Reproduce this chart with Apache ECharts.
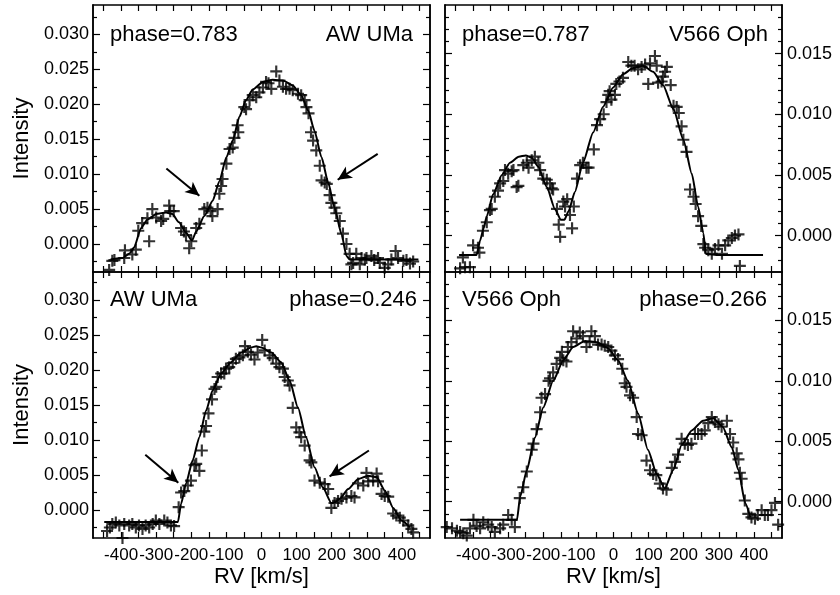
<!DOCTYPE html>
<html><head><meta charset="utf-8">
<script src="https://cdn.jsdelivr.net/npm/echarts@6/dist/echarts.min.js"></script>
<style>html,body{margin:0;padding:0;background:#fff}#c{width:840px;height:595px}</style>
</head><body><div id="c"></div>
<script>
// ---------- tick values ----------
const xTicks = [-450,-400,-350,-300,-250,-200,-150,-100,-50,0,50,100,150,200,250,300,350,400,450];
const xLabels = [-400,-300,-200,-100,0,100,200,300,400];
const awYLabels = [0,0.005,0.010,0.015,0.020,0.025,0.030];
const awYMinor = [-0.0025,0.0025,0.0075,0.0125,0.0175,0.0225,0.0275,0.0325];
const v566YLabels = [0,0.005,0.010,0.015];
const v566YMinor = [-0.002,-0.001,0.001,0.002,0.003,0.004,0.006,0.007,0.008,0.009,0.011,0.012,0.013,0.014,0.016,0.017,0.018];

// ---------- panel labels ----------
const panelNames = ['AW UMa','V566 Oph','AW UMa','V566 Oph'];
const panelPhases = ['phase=0.783','phase=0.787','phase=0.246','phase=0.266'];

// ---------- AW UMa, phase 0.783 ----------
const awObs783 = [[-434,-0.0037],[-425,-0.0024],[-419,-0.0023],[-391,-0.0020],[-389,-0.0009],[-368,-0.0015],[-358,-0.0008],[-351,0.0019],[-340,0.0030],[-320,0.0004],[-325,0.0037],[-311,0.0050],[-300,0.0038],[-286,0.0033],[-280,0.0036],[-263,0.0055],[-260,0.0047],[-250,0.0047],[-229,0.0023],[-221,0.0018],[-215,0.0013],[-206,-0.0006],[-200,0.0004],[-186,0.0023],[-177,0.0029],[-163,0.0050],[-154,0.0052],[-145,0.0047],[-140,0.0040],[-125,0.0050],[-120,0.0072],[-115,0.0083],[-111,0.0093],[-100,0.0115],[-91,0.0136],[-82,0.0138],[-77,0.0152],[-68,0.0170],[-66,0.0160],[-49,0.0196],[-44,0.0193],[-34,0.0206],[-25,0.0213],[-15,0.0210],[-6,0.0217],[4,0.0224],[13,0.0232],[20,0.0230],[28,0.0222],[42,0.0247],[51,0.0234],[61,0.0225],[70,0.0222],[80,0.0222],[89,0.0220],[104,0.0215],[113,0.0213],[123,0.0206],[128,0.0196],[134,0.0187],[141,0.0160],[147,0.0148],[156,0.0134],[166,0.0112],[171,0.0091],[180,0.0088],[186,0.0086],[194,0.0070],[199,0.0059],[208,0.0052],[213,0.0044],[223,0.0033],[232,0.0015],[242,0.0000],[251,-0.0014],[256,-0.0029],[261,-0.0027],[270,-0.0014],[280,-0.0029],[285,-0.0020],[294,-0.0022],[299,-0.0020],[313,-0.0017],[321,-0.0023],[332,-0.0020],[337,-0.0027],[351,-0.0034],[361,-0.0029],[370,-0.0022],[382,-0.0010],[389,-0.0020],[404,-0.0024],[413,-0.0023],[423,-0.0028],[432,-0.0025]];
const awFit783 = [[-430,-0.0022],[-395,-0.0020],[-375,-0.0013],[-363,-0.0005],[-343,0.0023],[-325,0.0035],[-300,0.0043],[-272,0.0045],[-254,0.0043],[-235,0.0031],[-215,0.0016],[-198,0.0005],[-186,0.0018],[-163,0.0040],[-139,0.0062],[-120,0.0090],[-100,0.0124],[-82,0.0148],[-63,0.0182],[-44,0.0206],[-25,0.0221],[4,0.0232],[32,0.0235],[61,0.0234],[89,0.0227],[113,0.0213],[133,0.0191],[151,0.0162],[171,0.0124],[190,0.0088],[208,0.0052],[228,0.0014],[242,-0.0017],[251,-0.0022],[300,-0.0022],[447,-0.0022]];
const awArrows783 = [[[-271,0.0108],[-177,0.0069]],[[331,0.0129],[217,0.0092]]];

// ---------- V566 Oph, phase 0.787 ----------
const vObs787 = [[-437,-0.0027],[-423,-0.0026],[-409,-0.0026],[-429,-0.0018],[-400,-0.0008],[-386,-0.0010],[-382,-0.0014],[-372,0.0004],[-361,0.0011],[-352,0.0021],[-347,0.0022],[-338,0.0032],[-329,0.0037],[-323,0.0043],[-314,0.0045],[-309,0.0054],[-300,0.0051],[-290,0.0053],[-285,0.0054],[-276,0.0040],[-271,0.0041],[-257,0.0058],[-247,0.0060],[-242,0.0056],[-233,0.0062],[-224,0.0065],[-214,0.0060],[-209,0.0054],[-200,0.0047],[-190,0.0046],[-181,0.0043],[-176,0.0039],[-172,0.0038],[-161,0.0022],[-156,0.0009],[-152,-0.0001],[-143,0.0028],[-138,0.0024],[-132,0.0030],[-124,0.0017],[-118,0.0006],[-113,0.0024],[-104,0.0047],[-95,0.0058],[-87,0.0060],[-77,0.0056],[-71,0.0056],[-56,0.0071],[-47,0.0091],[-38,0.0096],[-28,0.0100],[-20,0.0110],[-15,0.0116],[-11,0.0119],[-6,0.0112],[4,0.0116],[8,0.0125],[17,0.0127],[27,0.0130],[42,0.0143],[51,0.0140],[60,0.0140],[70,0.0137],[80,0.0139],[90,0.0141],[99,0.0125],[104,0.0142],[118,0.0148],[123,0.0140],[127,0.0126],[137,0.0127],[141,0.0131],[147,0.0135],[152,0.0139],[163,0.0124],[171,0.0107],[180,0.0106],[186,0.0101],[194,0.0090],[199,0.0079],[208,0.0069],[218,0.0038],[228,0.0032],[234,0.0026],[241,0.0016],[250,0.0008],[256,-0.0007],[261,-0.0010],[270,-0.0012],[280,-0.0015],[289,-0.0011],[299,-0.0008],[309,-0.0015],[318,-0.0008],[327,-0.0004],[337,-0.0002],[346,0.0000],[356,0.0001],[360,-0.0025]];
const vFit787 = [[-440,-0.0016],[-390,-0.0016],[-380,-0.0004],[-370,0.0006],[-361,0.0016],[-343,0.0034],[-318,0.0050],[-295,0.0060],[-270,0.0065],[-250,0.0066],[-232,0.0064],[-215,0.0057],[-190,0.0040],[-167,0.0022],[-150,0.0013],[-140,0.0013],[-128,0.0020],[-110,0.0036],[-87,0.0060],[-58,0.0085],[-30,0.0106],[-1,0.0122],[27,0.0133],[56,0.0138],[84,0.0140],[113,0.0135],[141,0.0124],[171,0.0104],[199,0.0079],[223,0.0051],[241,0.0024],[256,0.0002],[263,-0.0015],[300,-0.0016],[426,-0.0016]];

// ---------- AW UMa, phase 0.246 ----------
const awObs246 = [[-440,-0.0030],[-432,-0.0025],[-425,-0.0020],[-415,-0.0018],[-405,-0.0022],[-396,-0.0040],[-391,-0.0020],[-377,-0.0022],[-368,-0.0020],[-358,-0.0025],[-349,-0.0022],[-339,-0.0027],[-330,-0.0022],[-320,-0.0025],[-310,-0.0020],[-301,-0.0015],[-291,-0.0020],[-277,-0.0015],[-268,-0.0018],[-258,-0.0022],[-249,-0.0023],[-236,0.0004],[-229,0.0025],[-220,0.0027],[-210,0.0035],[-201,0.0042],[-191,0.0064],[-186,0.0066],[-177,0.0056],[-170,0.0085],[-163,0.0112],[-158,0.0120],[-151,0.0138],[-141,0.0158],[-134,0.0173],[-129,0.0176],[-125,0.0190],[-115,0.0195],[-106,0.0195],[-101,0.0202],[-92,0.0204],[-82,0.0210],[-73,0.0216],[-63,0.0218],[-53,0.0221],[-47,0.0234],[-39,0.0226],[-30,0.0222],[-20,0.0215],[-11,0.0225],[2,0.0243],[9,0.0228],[23,0.0221],[32,0.0217],[42,0.0209],[51,0.0204],[61,0.0202],[66,0.0190],[75,0.0185],[80,0.0178],[89,0.0146],[99,0.0118],[108,0.0111],[113,0.0104],[123,0.0092],[137,0.0071],[142,0.0068],[151,0.0042],[166,0.0039],[180,0.0037],[190,0.0030],[199,0.0003],[208,0.0010],[218,0.0013],[228,0.0016],[242,0.0018],[256,0.0020],[265,0.0018],[275,0.0038],[290,0.0035],[299,0.0053],[304,0.0041],[318,0.0042],[328,0.0052],[332,0.0041],[342,0.0023],[351,0.0020],[361,0.0019],[375,-0.0005],[384,-0.0008],[394,-0.0011],[404,-0.0015],[418,-0.0022],[427,-0.0027],[432,-0.0032]];
const awFit246 = [[-448,-0.0017],[-300,-0.0017],[-238,-0.0017],[-229,0.0009],[-215,0.0038],[-196,0.0071],[-177,0.0104],[-158,0.0142],[-139,0.0171],[-115,0.0195],[-87,0.0211],[-58,0.0225],[-30,0.0232],[-15,0.0234],[0,0.0232],[28,0.0225],[56,0.0211],[80,0.0185],[104,0.0146],[127,0.0104],[151,0.0061],[175,0.0032],[199,0.0010],[210,0.0011],[223,0.0016],[247,0.0030],[275,0.0044],[304,0.0049],[328,0.0047],[351,0.0028],[375,0.0003],[399,-0.0015],[423,-0.0025]];
const awArrows246 = [[[-331,0.0079],[-237,0.0039]],[[306,0.0085],[194,0.0048]]];

// ---------- V566 Oph, phase 0.266 ----------
const vObs266 = [[-475,-0.0021],[-460,-0.0022],[-446,-0.0024],[-437,-0.0025],[-428,-0.0026],[-418,-0.0028],[-409,-0.0022],[-399,-0.0015],[-390,-0.0020],[-380,-0.0022],[-371,-0.0017],[-357,-0.0019],[-347,-0.0021],[-338,-0.0025],[-323,-0.0022],[-314,-0.0019],[-300,-0.0011],[-290,-0.0015],[-281,-0.0021],[-267,0.0003],[-257,0.0012],[-247,0.0025],[-233,0.0043],[-228,0.0048],[-219,0.0060],[-209,0.0074],[-205,0.0086],[-195,0.0089],[-185,0.0100],[-181,0.0102],[-172,0.0107],[-162,0.0114],[-152,0.0119],[-147,0.0124],[-143,0.0117],[-134,0.0116],[-130,0.0128],[-120,0.0132],[-115,0.0141],[-105,0.0135],[-96,0.0140],[-87,0.0137],[-77,0.0128],[-68,0.0132],[-63,0.0141],[-53,0.0137],[-44,0.0130],[-34,0.0130],[-25,0.0129],[-15,0.0128],[-6,0.0125],[4,0.0121],[13,0.0118],[25,0.0110],[32,0.0098],[37,0.0095],[47,0.0088],[56,0.0086],[66,0.0070],[70,0.0056],[80,0.0055],[94,0.0034],[104,0.0026],[113,0.0023],[122,0.0022],[132,0.0015],[141,0.0011],[151,0.0010],[166,0.0028],[175,0.0033],[184,0.0039],[194,0.0052],[203,0.0048],[212,0.0047],[222,0.0048],[232,0.0056],[241,0.0056],[251,0.0056],[260,0.0059],[270,0.0065],[280,0.0070],[289,0.0066],[299,0.0064],[308,0.0062],[323,0.0067],[332,0.0056],[341,0.0049],[351,0.0040],[356,0.0035],[360,0.0024],[365,0.0019],[374,0.0001],[384,-0.0010],[393,-0.0013],[403,-0.0014],[411,-0.0011],[422,-0.0007],[431,-0.0011],[440,-0.0011],[450,-0.0007],[460,-0.0001],[469,-0.0019]];
const vFit266 = [[-437,-0.0015],[-300,-0.0015],[-275,-0.0015],[-266,0.0004],[-247,0.0026],[-224,0.0053],[-200,0.0078],[-172,0.0100],[-143,0.0117],[-115,0.0128],[-81,0.0133],[-47,0.0132],[-15,0.0127],[13,0.0117],[41,0.0100],[70,0.0073],[98,0.0043],[123,0.0023],[146,0.0011],[170,0.0026],[194,0.0047],[223,0.0059],[255,0.0067],[284,0.0069],[311,0.0062],[337,0.0045],[356,0.0026],[375,-0.0001],[390,-0.0013]];

// ---------- build ----------
const FONT = 'Liberation Sans, Arial, Helvetica, sans-serif';
const PLUS = 'path://M4.1,0H5.9V4.1H10V5.9H5.9V10H4.1V5.9H0V4.1H4.1Z';
const axLine = {show:true, onZero:false, lineStyle:{color:'#000', width:1.5}};
const grids = [
  {left:93, top:5, width:337, height:267},
  {left:445, top:5, width:337, height:267},
  {left:93, top:272, width:337, height:266},
  {left:445, top:272, width:337, height:266}
];
const panels = [
  {obs:awObs783, fit:awFit783, arrows:awArrows783, range:[-0.004,0.0342], yl:awYLabels, ym:awYMinor, side:'left'},
  {obs:vObs787, fit:vFit787, arrows:[], range:[-0.003,0.019], yl:v566YLabels, ym:v566YMinor, side:'right'},
  {obs:awObs246, fit:awFit246, arrows:awArrows246, range:[-0.004,0.034], yl:awYLabels, ym:awYMinor, side:'left'},
  {obs:vObs266, fit:vFit266, arrows:[], range:[-0.003,0.019], yl:v566YLabels, ym:v566YMinor, side:'right'}
];
const xAxes = [], yAxes = [], series = [], graphics = [];
panels.forEach((p, g) => {
  const lower = g >= 2;
  ['bottom','top'].forEach((pos, k) => {
    xAxes.push({type:'value', gridIndex:g, position:pos, min:-480, max:480,
      axisLine:axLine, splitLine:{show:false},
      axisTick:{show:true, inside:true, length:6, customValues:xTicks, lineStyle:{color:'#000', width:1.2}},
      axisLabel:(lower && k===0) ? {show:true, customValues:xLabels, fontSize:17, fontFamily:FONT, color:'#000', margin:9} : {show:false},
      name:(lower && k===0) ? 'RV [km/s]' : '', nameLocation:'middle', nameGap:28,
      nameTextStyle:{fontSize:22, fontFamily:FONT, color:'#000', verticalAlign:'top'}});
  });
  const other = p.side === 'left' ? 'right' : 'left';
  const mk = (pos, ticks, len, labels, name) => ({type:'value', gridIndex:g, position:pos,
    min:p.range[0], max:p.range[1], axisLine:axLine, splitLine:{show:false},
    axisTick:{show:true, inside:true, length:len, customValues:ticks, lineStyle:{color:'#000', width:1.2}},
    axisLabel: labels ? {show:true, customValues:labels, formatter:v=>v.toFixed(3), fontSize:18, fontFamily:FONT, color:'#000', margin:pos==='left'?4:5} : {show:false},
    name:name||'', nameLocation:'middle', nameGap:60, nameTextStyle:{fontSize:22, fontFamily:FONT, color:'#000'}});
  yAxes.push(mk(p.side, p.yl, 7, p.yl, p.side==='left' ? 'Intensity' : ''));
  yAxes.push(mk(p.side, p.ym, 4, null));
  yAxes.push(mk(other, p.yl, 7, null));
  yAxes.push(mk(other, p.ym, 4, null));
  series.push({type:'scatter', xAxisIndex:2*g, yAxisIndex:4*g, data:p.obs, symbol:PLUS, symbolSize:12,
    itemStyle:{color:'#000'}, silent:true, z:3});
  series.push({type:'line', xAxisIndex:2*g, yAxisIndex:4*g, data:p.fit, showSymbol:false, smooth:0.2, smoothMonotone:'x',
    lineStyle:{color:'#000', width:2}, silent:true, z:4,
    markLine:{silent:true, symbol:['none','arrow'], symbolSize:[10,14], label:{show:false},
      lineStyle:{color:'#000', width:2, type:'solid'},
      data:p.arrows.map(a => [{coord:a[0]}, {coord:a[1]}])}});
});
// panel texts
const tpos = [
  {py:35, phase:{x:110, a:'left'}, name:{x:413, a:'right'}},
  {py:35, phase:{x:462, a:'left'}, name:{x:768, a:'right'}},
  {py:300, phase:{x:417, a:'right'}, name:{x:110, a:'left'}},
  {py:300, phase:{x:767, a:'right'}, name:{x:462, a:'left'}}
];
tpos.forEach((t, g) => {
  graphics.push({type:'text', x:t.phase.x, y:t.py, style:{text:panelPhases[g], font:'22px '+FONT, fill:'#000', textAlign:t.phase.a, textVerticalAlign:'middle'}});
  graphics.push({type:'text', x:t.name.x, y:t.py, style:{text:panelNames[g], font:'22px '+FONT, fill:'#000', textAlign:t.name.a, textVerticalAlign:'middle'}});
});
const chart = echarts.init(document.getElementById('c'), null, {renderer:'canvas'});
chart.setOption({animation:false, backgroundColor:'#fff', grid:grids.map(x => Object.assign({outerBoundsMode:'none', containLabel:false}, x)),
  xAxis:xAxes, yAxis:yAxes, series:series, graphic:graphics});
</script></body></html>
